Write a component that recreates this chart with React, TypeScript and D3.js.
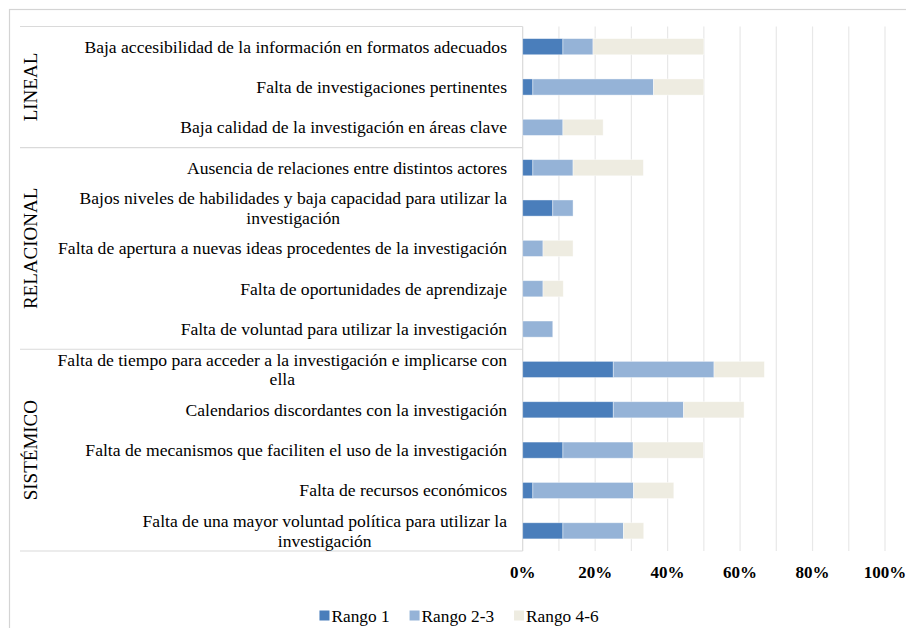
import React, { useEffect, useRef } from "react";
import * as d3 from "d3";

const categories: string[] = [
  "Baja accesibilidad de la información en formatos adecuados",
  "Falta de investigaciones pertinentes",
  "Baja calidad de la investigación en áreas clave",
  "Ausencia de relaciones entre distintos actores",
  "Bajos niveles de habilidades y baja capacidad para utilizar la\ninvestigación",
  "Falta de apertura a nuevas ideas procedentes de la investigación",
  "Falta de oportunidades de aprendizaje",
  "Falta de voluntad para utilizar la investigación",
  "Falta de tiempo para acceder a la investigación e implicarse con\nella",
  "Calendarios discordantes con la investigación",
  "Falta de mecanismos que faciliten el uso de la investigación",
  "Falta de recursos económicos",
  "Falta de una mayor voluntad política para utilizar la\ninvestigación",
];

const rango1: number[] = [11.1, 2.8, 0, 2.8, 8.3, 0, 0, 0, 25.0, 25.0, 11.1, 2.8, 11.1];
const rango23: number[] = [8.3, 33.3, 11.1, 11.1, 5.6, 5.6, 5.6, 8.3, 27.8, 19.4, 19.4, 27.8, 16.7];
const rango46: number[] = [30.6, 13.9, 11.1, 19.4, 0, 8.3, 5.6, 0, 13.9, 16.7, 19.4, 11.1, 5.6];

const seriesNames: string[] = ["Rango 1", "Rango 2-3", "Rango 4-6"];
const seriesColors: string[] = ["#4a7ebb", "#95b3d7", "#eeece1"];

const groups: { name: string; start: number; end: number }[] = [
  { name: "LINEAL", start: 0, end: 2 },
  { name: "RELACIONAL", start: 3, end: 7 },
  { name: "SISTÉMICO", start: 8, end: 12 },
];

const xTicks: number[] = [0, 20, 40, 60, 80, 100];
const xGrid: number[] = [0, 10, 20, 30, 40, 50, 60, 70, 80, 90, 100];

const W = 906;
const H = 628;
const FONT = "Liberation Serif, DejaVu Serif, serif";

export default function App() {
  const ref = useRef<SVGSVGElement | null>(null);

  useEffect(() => {
    const svg = d3.select(ref.current);
    svg.selectAll("*").remove();

    const x0 = 522.7;
    const x1 = 885;
    const yTop = 26.5;
    const yBot = 551;
    const tableLeft = 20;

    const x = d3.scaleLinear().domain([0, 100]).range([x0, x1]);
    const y = d3
      .scaleBand<number>()
      .domain(d3.range(categories.length))
      .range([yTop, yBot])
      .paddingInner(0.6)
      .paddingOuter(0.3);

    svg
      .append("rect")
      .attr("x", 9.5)
      .attr("y", 9.5)
      .attr("width", 1200)
      .attr("height", 1200)
      .attr("fill", "#fff")
      .attr("stroke", "#d4d4d4")
      .attr("stroke-width", 1.2);

    svg
      .append("g")
      .selectAll("line")
      .data(xGrid)
      .join("line")
      .attr("x1", (d) => x(d))
      .attr("x2", (d) => x(d))
      .attr("y1", yTop)
      .attr("y2", yBot)
      .attr("stroke", (d) => (d === 0 ? "#d9d9d9" : "#e8e8e8"))
      .attr("stroke-width", 1.2);

    const step = y.step();
    const sepY = [yTop, ...groups.map((g) => yTop + (g.end + 1) * step)];
    svg
      .append("g")
      .selectAll("line")
      .data(sepY)
      .join("line")
      .attr("x1", tableLeft)
      .attr("x2", x0)
      .attr("y1", (d) => d)
      .attr("y2", (d) => d)
      .attr("stroke", "#dadada")
      .attr("stroke-width", 1.2);

    const rows = categories.map((c, i) => ({ i, vals: [rango1[i], rango23[i], rango46[i]] }));
    const stacked = d3
      .stack<{ i: number; vals: number[] }, number>()
      .keys([0, 1, 2])
      .value((d, k) => d.vals[k])(rows);

    stacked.forEach((layer, k) => {
      svg
        .append("g")
        .selectAll("rect")
        .data(layer.filter((d) => d[1] - d[0] > 0))
        .join("rect")
        .attr("x", (d) => x(d[0]))
        .attr("width", (d) => x(d[1]) - x(d[0]))
        .attr("y", (d) => y(d.data.i) as number)
        .attr("height", y.bandwidth())
        .attr("fill", seriesColors[k])
        .attr("stroke", "#ffffff")
        .attr("stroke-opacity", 0.5)
        .attr("stroke-width", 0.8);
    });

    const lineH = 19.5;
    const labels = svg.append("g").style("font-family", FONT).style("font-size", "17.6px").attr("fill", "#000");
    categories.forEach((c, i) => {
      const lines = c.split("\n");
      const cy = (y(i) as number) + y.bandwidth() / 2;
      const t = labels.append("text").attr("text-anchor", "middle").attr("dominant-baseline", "central");
      lines.forEach((ln, li) => {
        t.append("tspan")
          .attr("y", cy + (li - (lines.length - 1) / 2) * lineH)
          .text(ln);
      });
      const tspans = t.selectAll<SVGTSpanElement, unknown>("tspan").nodes();
      const widths = tspans.map((n) => n.getComputedTextLength());
      const maxW = d3.max(widths) || 0;
      const center = 507 - maxW / 2;
      t.selectAll("tspan").attr("x", center);
    });

    const gl = svg.append("g").style("font-family", FONT).style("font-size", "19px").attr("fill", "#000");
    groups.forEach((g) => {
      const cy = (yTop + g.start * step + yTop + (g.end + 1) * step) / 2;
      gl.append("text")
        .attr("transform", `translate(37,${cy}) rotate(-90)`)
        .attr("text-anchor", "middle")
        .text(g.name);
    });

    svg
      .append("g")
      .style("font-family", FONT)
      .style("font-size", "17px")
      .style("font-weight", "bold")
      .attr("fill", "#000")
      .selectAll("text")
      .data(xTicks)
      .join("text")
      .attr("x", (d) => x(d))
      .attr("y", 578)
      .attr("text-anchor", "middle")
      .text((d) => d3.format(".0%")(d / 100));

    const leg = svg.append("g").style("font-family", FONT).style("font-size", "17.3px").attr("fill", "#000");
    const items = seriesNames.map((name, k) => {
      const gi = leg.append("g");
      gi.append("rect").attr("width", 10).attr("height", 10).attr("y", 610.5).attr("fill", seriesColors[k]);
      const tx = gi.append("text").attr("x", 12).attr("y", 621.5).text(name);
      const w = 12 + (tx.node() as SVGTextElement).getComputedTextLength();
      return { gi, w };
    });
    const gap = 20;
    const total = d3.sum(items, (d) => d.w) + gap * (items.length - 1);
    let cx = 459 - total / 2;
    items.forEach((it) => {
      it.gi.attr("transform", `translate(${cx},0)`);
      cx += it.w + gap;
    });
  }, []);

  return (
    <svg
      ref={ref}
      width={W}
      height={H}
      style={{ position: "absolute", left: 0, top: 0, background: "#fff" }}
    />
  );
}
